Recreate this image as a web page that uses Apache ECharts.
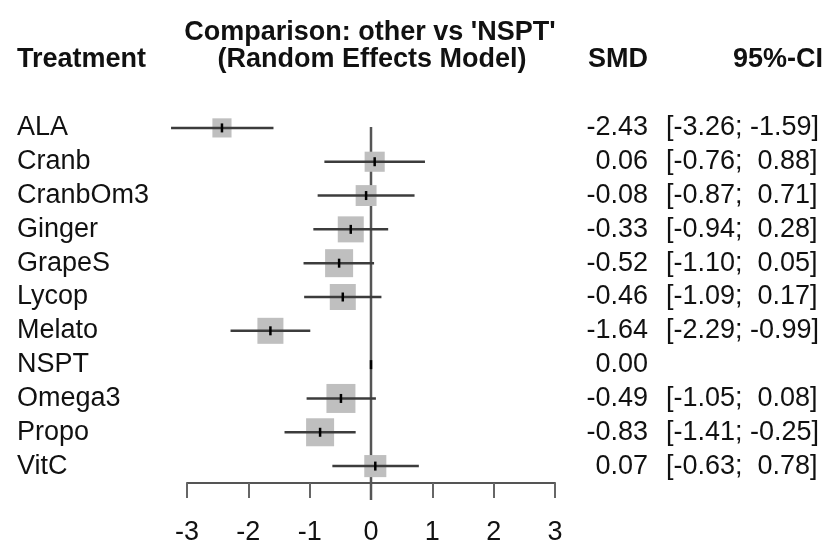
<!DOCTYPE html>
<html>
<head>
<meta charset="utf-8">
<script src="https://cdn.jsdelivr.net/npm/echarts@6/dist/echarts.min.js"></script>
<style>
html,body{margin:0;padding:0;background:#fff;}
#chart{width:828px;height:548px;}
</style>
</head>
<body>
<div id="chart"></div>
<script>
// ---- data ----
var treatments = ['ALA','Cranb','CranbOm3','Ginger','GrapeS','Lycop','Melato','NSPT','Omega3','Propo','VitC'];
var smd   = [-2.43, 0.06, -0.08, -0.33, -0.52, -0.46, -1.64, 0.00, -0.49, -0.83, 0.07];
var lower = [-3.26, -0.76, -0.87, -0.94, -1.10, -1.09, -2.29, null, -1.05, -1.41, -0.63];
var upper = [-1.59, 0.88, 0.71, 0.28, 0.05, 0.17, -0.99, null, 0.08, -0.25, 0.78];
var weights = [5.8, 6.4, 6.9, 10.7, 12.4, 10.7, 10.7, 0, 13.3, 12.4, 7.7];
var xTicks = [-3, -2, -1, 0, 1, 2, 3];
var refValue = 0;

// ---- derived labels ----
function f2(v){ return v.toFixed(2); }
var smdLabels = smd.map(f2);
var ciLabels = lower.map(function(lo, i){
  var hi = upper[i];
  if (lo === null || hi === null) return '';
  return '[' + f2(lo) + ';' + (hi < 0 ? ' ' : '  ') + f2(hi) + ']';
});
var maxW = Math.max.apply(null, weights);
var seriesData = treatments.map(function(t, i){
  return [i, smd[i], lower[i] === null ? NaN : lower[i], upper[i] === null ? NaN : upper[i], weights[i]];
});

var FONT = '"Liberation Sans", Arial, Helvetica, sans-serif';
var chart = echarts.init(document.getElementById('chart'), null, {renderer:'canvas'});

var option = {
  animation: false,
  backgroundColor: '#fff',
  textStyle: {fontFamily: FONT},
  grid: {left: 187, right: 273, top: 111, bottom: 65},
  xAxis: [{
    type: 'value', min: xTicks[0], max: xTicks[xTicks.length-1], interval: 1,
    position: 'bottom',
    axisLine: {show: true, lineStyle: {color: '#555', width: 2}},
    axisTick: {show: true, length: 15, inside: false, lineStyle: {color: '#666', width: 2}},
    axisLabel: {show: true, fontSize: 27, color: '#111', margin: 36, fontFamily: FONT},
    splitLine: {show: false}
  }],
  yAxis: [{
    type: 'category', data: treatments, inverse: true,
    axisLine: {show: false}, axisTick: {show: false}, splitLine: {show: false},
    axisLabel: {interval: 0, fontSize: 27, color: '#111', align: 'left', margin: 170, fontFamily: FONT}
  }, {
    type: 'category', data: treatments, inverse: true, position: 'right',
    axisLine: {show: false}, axisTick: {show: false}, splitLine: {show: false},
    axisLabel: {interval: 0, fontSize: 27, color: '#111', align: 'right', margin: 93, fontFamily: FONT,
      formatter: function(v, i){ return smdLabels[i]; }}
  }, {
    type: 'category', data: treatments, inverse: true, position: 'right',
    axisLine: {show: false}, axisTick: {show: false}, splitLine: {show: false},
    axisLabel: {interval: 0, fontSize: 27, color: '#111', align: 'left', margin: 111, fontFamily: FONT,
      formatter: function(v, i){ return ciLabels[i]; }}
  }],
  graphic: [
    {type: 'text', style: {text: "Comparison: other vs 'NSPT'", x: 370, y: 33, textAlign: 'center', textVerticalAlign: 'middle', font: 'bold 27px ' + FONT, fill: '#111'}},
    {type: 'text', style: {text: '(Random Effects Model)', x: 372, y: 60, textAlign: 'center', textVerticalAlign: 'middle', font: 'bold 27px ' + FONT, fill: '#111'}},
    {type: 'text', style: {text: 'Treatment', x: 17, y: 60, textAlign: 'left', textVerticalAlign: 'middle', font: 'bold 27px ' + FONT, fill: '#111'}},
    {type: 'text', style: {text: 'SMD', x: 648, y: 60, textAlign: 'right', textVerticalAlign: 'middle', font: 'bold 27px ' + FONT, fill: '#111'}},
    {type: 'text', style: {text: '95%-CI', x: 823, y: 60, textAlign: 'right', textVerticalAlign: 'middle', font: 'bold 27px ' + FONT, fill: '#111'}}
  ],
  series: [{
    // reference (null effect) line, extending one row below the axis line
    type: 'custom',
    xAxisIndex: 0, yAxisIndex: 0,
    data: [[refValue]],
    clip: false,
    z: 1,
    renderItem: function(params, api){
      var a = api.coord([api.value(0), -0.5]);
      var c = api.coord([api.value(0), treatments.length + 0.45]);
      return {type: 'line', shape: {x1: a[0], y1: a[1] - 1, x2: c[0], y2: c[1]},
        style: {stroke: '#555', lineWidth: 2.5}};
    }
  }, {
    type: 'custom',
    xAxisIndex: 0, yAxisIndex: 0,
    data: seriesData,
    clip: false,
    z: 2,
    renderItem: function(params, api){
      var row = api.value(0), est = api.value(1), lo = api.value(2), hi = api.value(3), w = api.value(4);
      var c = api.coord([est, row]);
      var children = [];
      if (w > 0) {
        var side = Math.sqrt(w / maxW) * 29;
        children.push({type: 'rect', shape: {x: c[0] - side/2, y: c[1] - side/2, width: side, height: side},
          style: {fill: '#bfbfbf'}, z2: 1});
      }
      if (!isNaN(lo) && !isNaN(hi)) {
        var a = api.coord([lo, row]), b = api.coord([hi, row]);
        children.push({type: 'line', shape: {x1: a[0], y1: a[1], x2: b[0], y2: b[1]},
          style: {stroke: '#3c3c3c', lineWidth: 2.5}, z2: 2});
      }
      children.push({type: 'line', shape: {x1: c[0], y1: c[1] - 4.5, x2: c[0], y2: c[1] + 4.5},
        style: {stroke: '#000', lineWidth: 2.5}, z2: 3});
      return {type: 'group', children: children};
    }
  }]
};
chart.setOption(option);
</script>
</body>
</html>
